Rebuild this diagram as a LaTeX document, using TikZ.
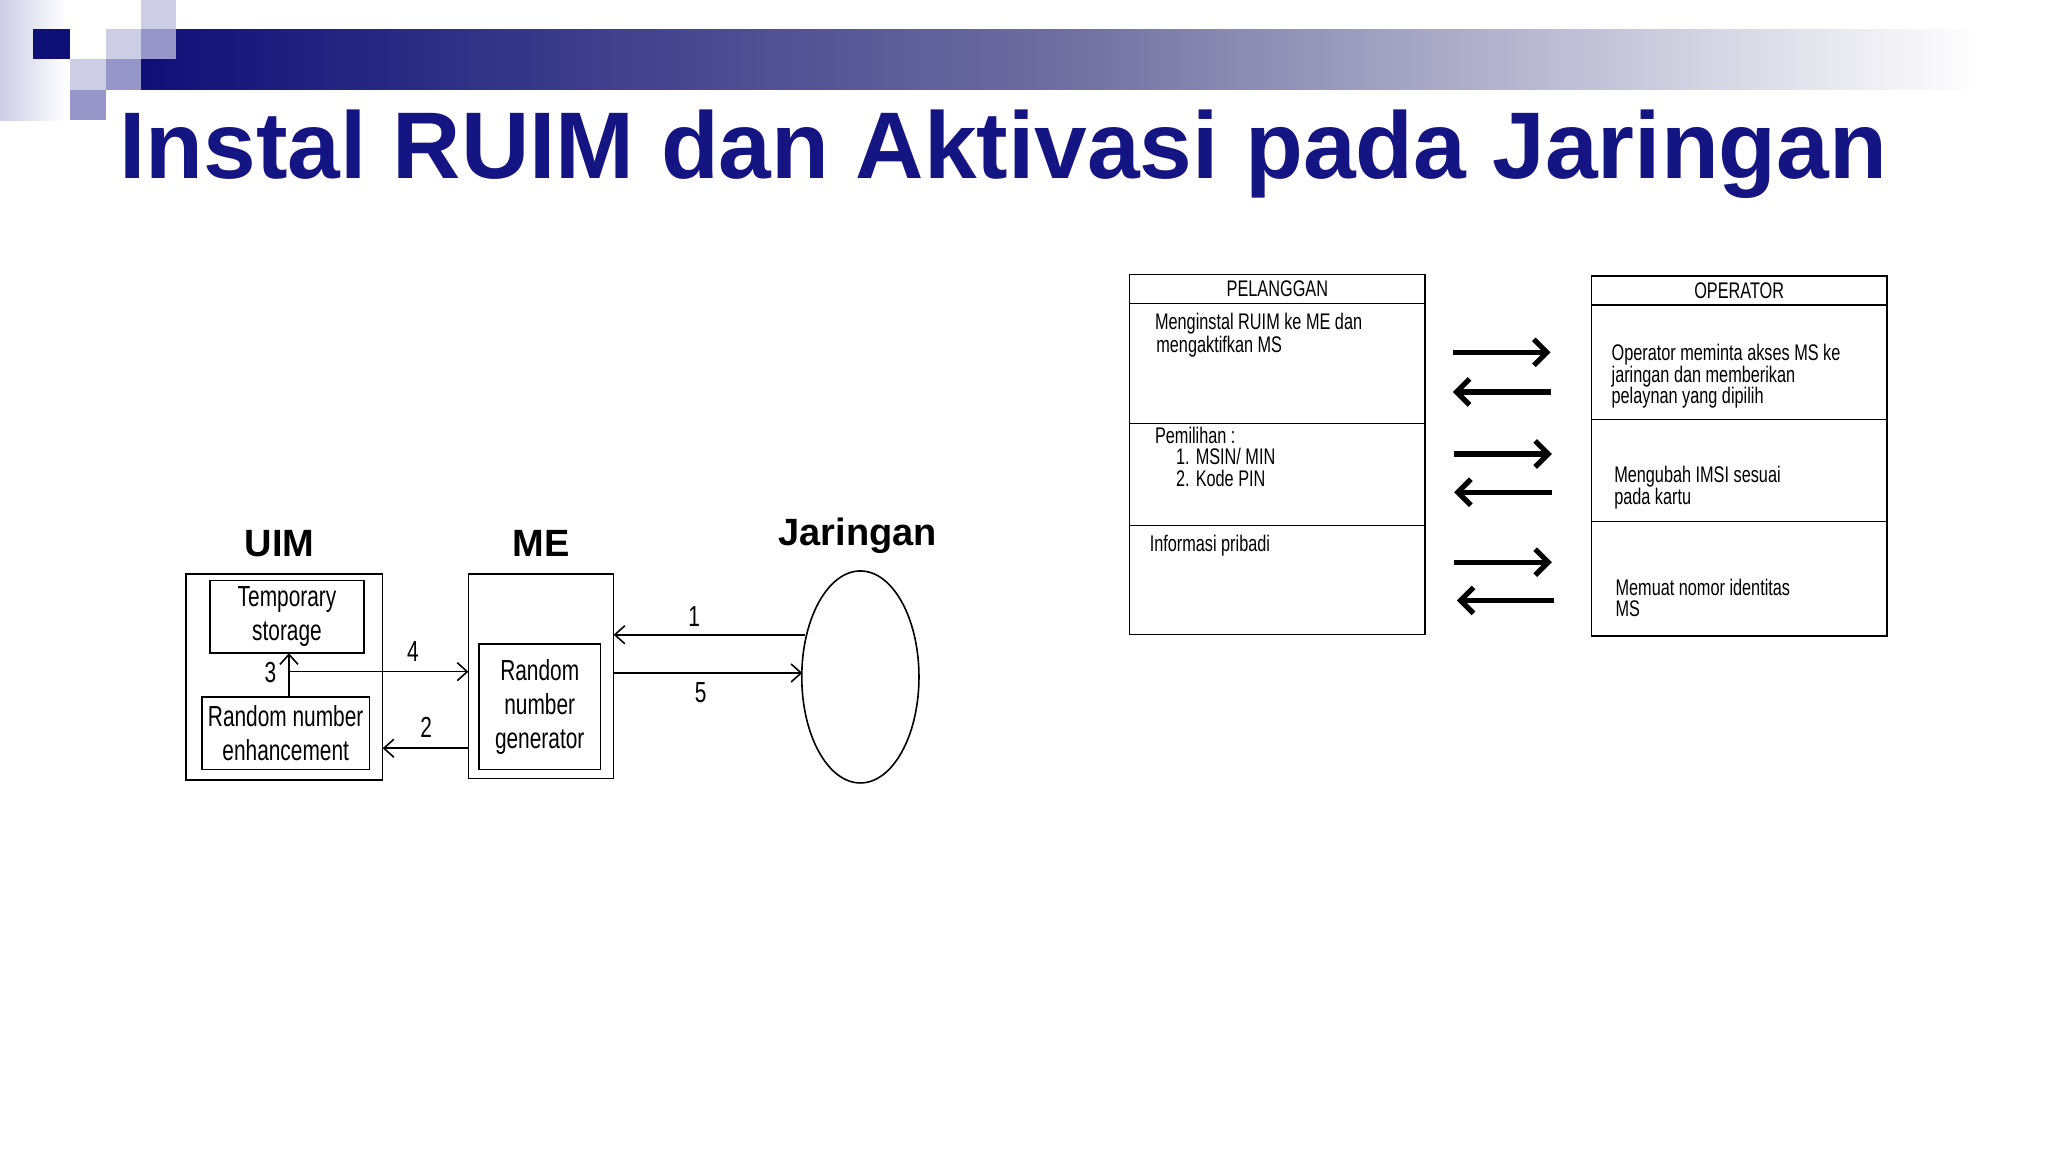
\documentclass[tikz,border=0pt]{standalone}
\usepackage{fontspec}
\setmainfont{Liberation Sans}
\newfontfamily\nar[FakeStretch=0.72]{Liberation Sans}
\usetikzlibrary{arrows.meta,fit,shapes.geometric}
\definecolor{navy}{RGB}{20,20,130}
\definecolor{sqdark}{RGB}{15,15,120}
\definecolor{sqmed}{RGB}{150,150,200}
\definecolor{sqlight}{RGB}{205,205,230}
\definecolor{barmid}{RGB}{110,110,160}
\begin{document}
\begin{tikzpicture}[x=0.6598pt,y=-0.6598pt,
  bx/.style={draw,line width=0.8pt,inner sep=0pt},
  tb/.style={draw,line width=0.7pt,inner sep=0pt},
  small/.style={font=\nar\fontsize{14.5}{17}\selectfont,align=center,inner sep=0pt},
  tt/.style={font=\nar\fontsize{11.3}{13}\selectfont,inner sep=0pt,anchor=base west},
  lab/.style={font=\bfseries\fontsize{19}{21}\selectfont,inner sep=0pt},
  thin/.style={line width=0.8pt,-{Straight Barb[length=5pt,width=9pt]}},
  thick/.style={line width=2.6pt,-{Straight Barb[length=6.5pt,width=13pt,line width=2.6pt]}}]
\useasboundingbox (0,0) rectangle (1552,873);
% header decoration
\shade[left color=sqlight,right color=white] (0,0) rectangle (50,91);
\shade[left color=sqdark,right color=white,middle color=barmid] (107,22) rectangle (1500,68);
\fill[sqdark] (25,22) rectangle (53,45);
\fill[sqlight] (80,22) rectangle (107,45);
\fill[sqlight] (107,0) rectangle (133,22);
\fill[sqmed] (107,22) rectangle (133,45);
\fill[sqlight] (53,45) rectangle (80,68);
\fill[sqmed] (80,45) rectangle (107,68);
\fill[sqmed] (53,68) rectangle (80,91);
% title
\node[anchor=base west,inner sep=0pt,text=navy] (title) at (90,135)
  {\resizebox{884pt}{!}{\bfseries Instal RUIM dan Aktivasi pada Jaringan}};
% left diagram
\node[lab] (luim) at (212,412) {UIM};
\node[lab] (lme) at (410,412) {ME};
\node[lab] (ljar) at (650,406) {Jaringan};
\node[bx,fit={(141,435)(290,591)}] (uim) {};
\node[bx,fit={(159,440)(276,495)}] (ts) {};
\node[small] at (ts.center) {Temporary\\storage};
\node[bx,fit={(153,528)(280,583)}] (rne) {};
\node[small] at (rne.center) {Random number\\enhancement};
\node[bx,fit={(355,435)(465,590)}] (me) {};
\node[bx,fit={(363,488)(455,583)}] (rng) {};
\node[small] at (rng.center) {Random\\number\\generator};
\node[ellipse,draw,line width=0.8pt,minimum width=58.6pt,minimum height=106pt,inner sep=0pt] (net) at (652,513) {};
\coordinate (a1s) at (610,481);
\coordinate (a1e) at (465,481);
\draw[thin] (a1s) -- (a1e);
\coordinate (a5s) at (465,510);
\coordinate (a5e) at (608,510);
\draw[thin] (a5s) -- (a5e);
\coordinate (a3s) at (219,528);
\coordinate (a3e) at (219,495);
\draw[thin] (a3s) -- (a3e);
\coordinate (a4s) at (219,509);
\coordinate (a4e) at (355,509);
\draw[thin] (a4s) -- (a4e);
\coordinate (a2s) at (355,567);
\coordinate (a2e) at (290,567);
\draw[thin] (a2s) -- (a2e);
\node[small] (n1) at (526,467) {1};
\node[small] (n5) at (531,525) {5};
\node[small] (n4) at (313,494) {4};
\node[small] (n3) at (205,510) {3};
\node[small] (n2) at (323,551) {2};
% right tables
\node[tb,fit={(856,208)(1080,230)}] (ph) {};
\node[tt,anchor=center] at (ph.center) {PELANGGAN};
\node[tb,fit={(856,230)(1080,321)}] (p1) {};
\node[tb,fit={(856,321)(1080,398)}] (p2) {};
\node[tb,fit={(856,398)(1080,481)}] (p3) {};
\node[tb,fit={(1206,209)(1430,231)}] (oh) {};
\node[tt,anchor=center] at (oh.center) {OPERATOR};
\node[tb,fit={(1206,231)(1430,318)}] (o1) {};
\node[tb,fit={(1206,318)(1430,395)}] (o2) {};
\node[tb,fit={(1206,395)(1430,482)}] (o3) {};
\node[tt] at (875,250) {Menginstal RUIM ke ME dan};
\node[tt] at (876,267) {mengaktifkan MS};
\node[tt] at (875,336) {Pemilihan :};
\node[tt] at (891,352) {1. MSIN/ MIN};
\node[tt] at (891,369) {2. Kode PIN};
\node[tt] at (871,418) {Informasi pribadi};
\node[tt] at (1221,273) {Operator meminta akses MS ke};
\node[tt] at (1221,290) {jaringan dan memberikan};
\node[tt] at (1221,306) {pelaynan yang dipilih};
\node[tt] at (1223,366) {Mengubah IMSI sesuai};
\node[tt] at (1223,382) {pada kartu};
\node[tt] at (1224,451) {Memuat nomor identitas};
\node[tt] at (1224,467) {MS};
\coordinate (r1a) at (1101,267); \coordinate (r1b) at (1175,267);
\coordinate (l1a) at (1175,297); \coordinate (l1b) at (1101,297);
\coordinate (r2a) at (1102,344); \coordinate (r2b) at (1176,344);
\coordinate (l2a) at (1176,373); \coordinate (l2b) at (1102,373);
\coordinate (r3a) at (1102,426); \coordinate (r3b) at (1176,426);
\coordinate (l3a) at (1178,455); \coordinate (l3b) at (1104,455);
\draw[thick] (r1a) -- (r1b);
\draw[thick] (l1a) -- (l1b);
\draw[thick] (r2a) -- (r2b);
\draw[thick] (l2a) -- (l2b);
\draw[thick] (r3a) -- (r3b);
\draw[thick] (l3a) -- (l3b);
\end{tikzpicture}
\end{document}
